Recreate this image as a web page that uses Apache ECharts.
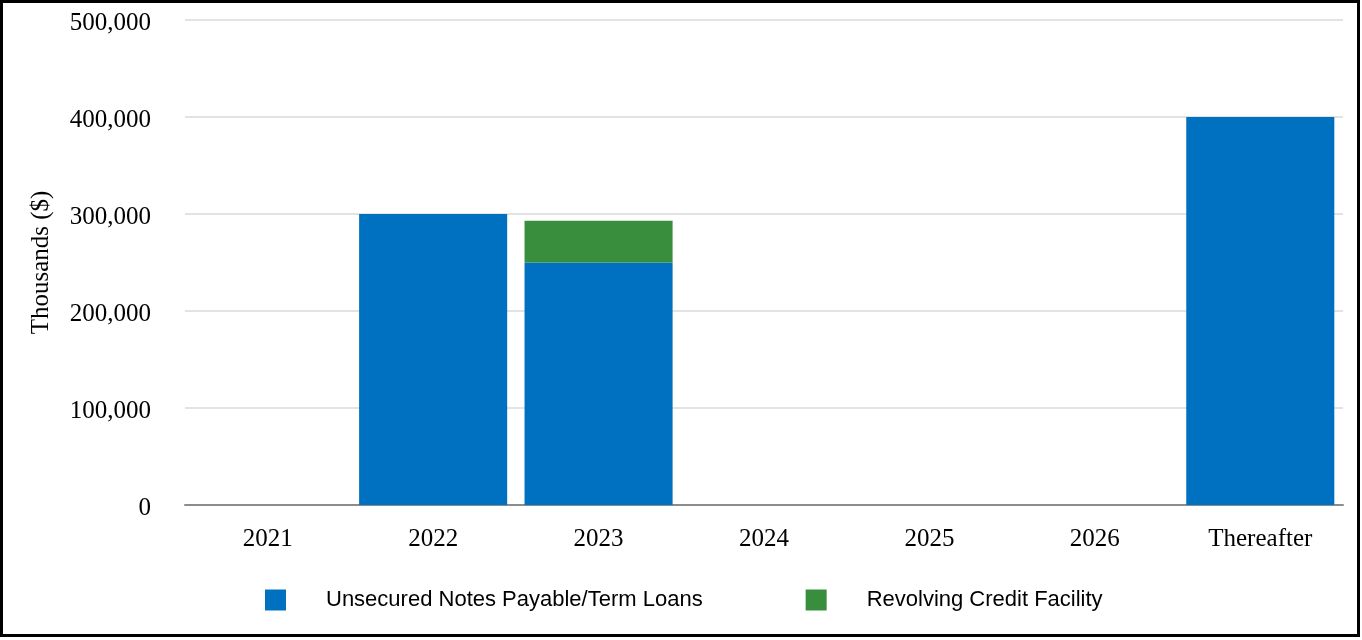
<!DOCTYPE html>
<html>
<head>
<meta charset="utf-8">
<script src="https://cdn.jsdelivr.net/npm/echarts@6/dist/echarts.min.js"></script>
<style>
html,body{margin:0;padding:0;background:#fff;}
#chart{width:1362px;height:640px;}
</style>
</head>
<body>
<div id="chart"></div>
<script>
const categories = ['2021', '2022', '2023', '2024', '2025', '2026', 'Thereafter'];
const unsecuredNotes = [0, 300000, 250000, 0, 0, 0, 400000];
const revolvingCredit = [0, 0, 43000, 0, 0, 0, 0];
const seriesNames = ['Unsecured Notes Payable/Term Loans', 'Revolving Credit Facility'];
const yAxisTitle = 'Thousands ($)';

const serif = '"Liberation Serif", "Times New Roman", serif';
const sans = '"Liberation Sans", Arial, sans-serif';

const chart = echarts.init(document.getElementById('chart'), null, {renderer: 'canvas'});
chart.setOption({
  animation: false,
  backgroundColor: '#fff',
  graphic: [{
    type: 'rect',
    shape: {x: 1.5, y: 1.5, width: 1357, height: 634},
    style: {fill: 'none', stroke: '#000', lineWidth: 3},
    z: 100
  }],
  grid: {left: 185, right: 19, top: 20, bottom: 135, containLabel: false},
  legend: {
    data: seriesNames,
    left: 260,
    top: 584,
    itemWidth: 21,
    itemHeight: 21,
    itemGap: 103,
    icon: 'rect',
    textStyle: {fontFamily: sans, fontSize: 22, color: '#000', padding: [0, 0, 0, 35]}
  },
  xAxis: {
    type: 'category',
    data: categories,
    axisLine: {lineStyle: {color: '#8c8c8c', width: 2}},
    axisTick: {show: false},
    axisLabel: {fontFamily: serif, fontSize: 25, color: '#000', margin: 22}
  },
  yAxis: {
    type: 'value',
    min: 0,
    max: 500000,
    interval: 100000,
    name: yAxisTitle,
    nameLocation: 'middle',
    nameGap: 131,
    nameTextStyle: {fontFamily: serif, fontSize: 25, color: '#000'},
    axisLine: {show: false},
    axisTick: {show: false},
    splitLine: {lineStyle: {color: '#e3e3e3', width: 2}},
    axisLabel: {
      fontFamily: serif, fontSize: 25, color: '#000', margin: 34,
      formatter: v => '{a|' + v.toLocaleString('en-US') + '}',
      rich: {a: {fontFamily: serif, fontSize: 25, color: '#000', padding: [6, 0, 0, 0]}}
    }
  },
  series: [
    {
      name: seriesNames[0],
      type: 'bar',
      stack: 'total',
      data: unsecuredNotes,
      barCategoryGap: '10.5%',
      itemStyle: {color: '#0070C0'}
    },
    {
      name: seriesNames[1],
      type: 'bar',
      stack: 'total',
      data: revolvingCredit,
      barCategoryGap: '10.5%',
      itemStyle: {color: '#388E3C'}
    }
  ]
});
</script>
</body>
</html>
